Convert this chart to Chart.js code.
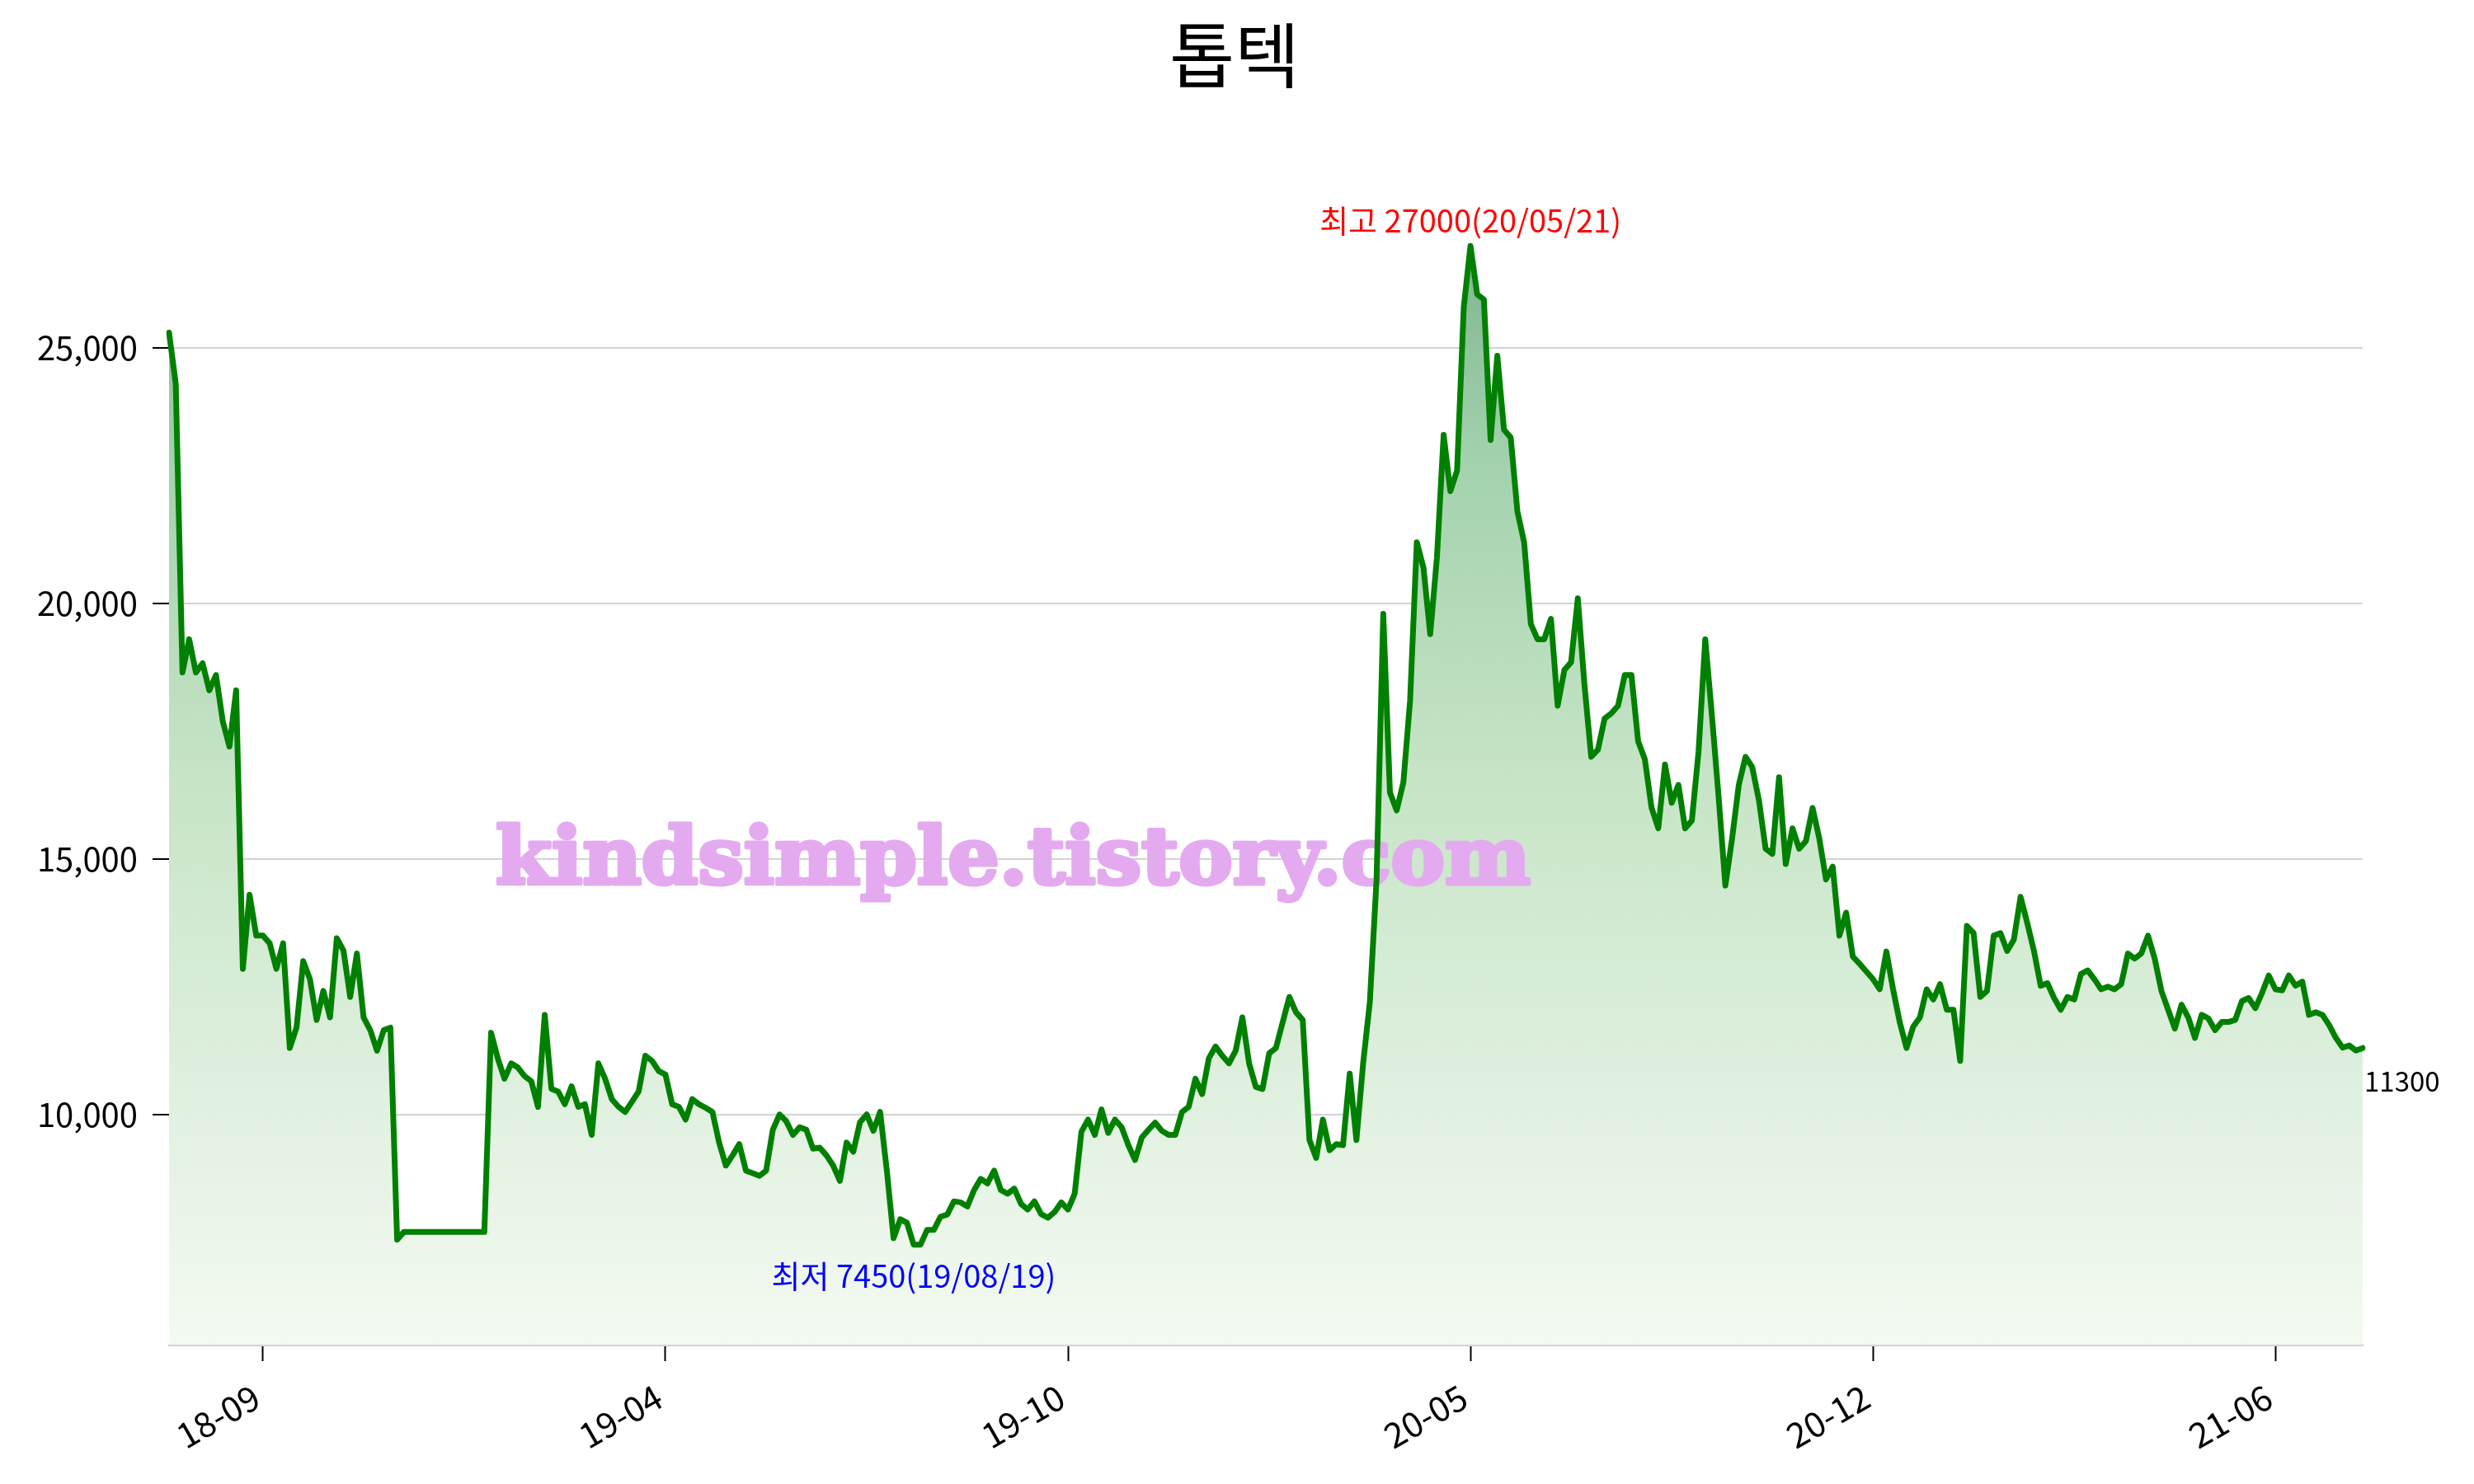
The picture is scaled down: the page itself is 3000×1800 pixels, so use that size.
<!DOCTYPE html>
<html>
<head>
<meta charset="utf-8">
<script src="https://cdn.jsdelivr.net/npm/chart.js@4.4.1/dist/chart.umd.min.js"></script>
<style>
  html, body { margin: 0; padding: 0; background: #fff; }
  #wrap { width: 3000px; height: 1800px; }
</style>
</head>
<body>
<div id="wrap"><canvas id="stockChart"></canvas></div>
<script>
const stockName = "톱텍";
const watermark = "kindsimple.tistory.com";
const tickLabels = ["18-09", "19-04", "19-10", "20-05", "20-12", "21-06"];
const firstTick = 14;   // index of the first labelled day
const tickStep = 60;    // days between labels
const yTicks = [10000, 15000, 20000, 25000];
const highDate = "20/05/21";
const lowDate = "19/08/19";

// daily close
const closes = [
  25300, 24300, 18650, 19300, 18650, 18830, 18300, 18600, 17700, 17200,
  18300, 12850, 14300, 13500, 13500, 13350, 12850, 13350, 11300, 11700,
  13000, 12650, 11850, 12420, 11900, 13450, 13210, 12300, 13150, 11900,
  11650, 11250, 11650, 11700, 7550, 7700, 7700, 7700, 7700, 7700,
  7700, 7700, 7700, 7700, 7700, 7700, 7700, 7700, 11600, 11100,
  10700, 11000, 10920, 10750, 10650, 10150, 11950, 10500, 10450, 10200,
  10550, 10150, 10200, 9600, 11000, 10700, 10300, 10150, 10050, 10250,
  10450, 11150, 11050, 10850, 10780, 10200, 10150, 9900, 10300, 10200,
  10130, 10050, 9450, 9000,
  9200, 9420, 8900, 8850, 8800, 8900,
  9700, 10000, 9870, 9600, 9750, 9700, 9330, 9350, 9200, 9000,
  8700, 9450, 9270, 9850, 10000, 9680, 10050, 8900, 7580, 7950,
  7880, 7450, 7450, 7740, 7740, 8000, 8040, 8300, 8280, 8200,
  8520, 8740, 8650, 8900, 8520, 8450, 8550, 8250, 8140, 8300,
  8050, 7980, 8090, 8280, 8140, 8450, 9660, 9900, 9600, 10100,
  9640, 9900, 9750, 9400, 9110, 9550, 9700, 9840, 9680, 9600,
  9600, 10050, 10150, 10700, 10400, 11100, 11330, 11150, 11000, 11250,
  11900, 11000, 10540, 10500, 11200, 11300, 11800,
  12300, 12000, 11850,
  9500, 9150, 9900, 9300, 9420, 9400, 10800, 9500, 11000, 12200,
  14600, 19800, 16300, 15950, 16500, 18100, 21200, 20700, 19400, 20900,
  23300, 22200, 22600, 25800, 27000, 26050, 25950, 23200, 24850, 23400,
  23250, 21800, 21200, 19600, 19300, 19300, 19700, 18000, 18700, 18850,
  20100, 18400, 17000, 17140, 17750, 17850, 18000, 18600, 18600, 17300,
  16950, 16000, 15600, 16850, 16100, 16450, 15600, 15750, 17100, 19300,
  17800, 16200, 14480, 15400, 16450, 17000, 16800, 16150, 15200, 15100,
  16600, 14900, 15600, 15200, 15350, 16000,
  15400, 14600, 14850, 13500,
  13950, 13090, 12950, 12800, 12650, 12450, 13190, 12450, 11800, 11300,
  11720, 11900, 12450, 12250, 12550, 12050, 12050, 11050, 13690, 13550,
  12300, 12420, 13500, 13550, 13200, 13420, 14260, 13750, 13200, 12520,
  12570, 12280, 12050, 12300, 12250, 12750, 12820, 12650, 12450, 12500,
  12450, 12550, 13150, 13050, 13150, 13500, 13050, 12420, 12050, 11680,
  12150, 11900, 11500, 11950, 11880, 11650, 11810, 11810, 11850, 12220,
  12280, 12080, 12380, 12720, 12450, 12430, 12720, 12520, 12600, 11950,
  12000, 11950, 11750, 11500, 11310, 11350, 11250, 11300
];

const hiVal = Math.max(...closes);
const loVal = Math.min(...closes);
const span = hiVal - loVal;

Chart.defaults.font.family = '"Noto Sans CJK KR", "Noto Sans", sans-serif';
Chart.defaults.color = "#000";

function fillGradient(context) {
  const chart = context.chart;
  const area = chart.chartArea;
  if (!area) return "rgba(0,128,0,0.2)";
  const top = chart.scales.y.getPixelForValue(hiVal);
  const g = chart.ctx.createLinearGradient(0, top, 0, area.bottom);
  g.addColorStop(0, "rgb(126,182,144)");
  g.addColorStop(0.2, "rgb(164,210,174)");
  g.addColorStop(0.5, "rgb(200,229,200)");
  g.addColorStop(1, "rgb(244,250,242)");
  return g;
}

const textPlugin = {
  id: "texts",
  beforeDatasetsDraw(chart) {
    // watermark sits over the fill but under the line
    const { ctx, chartArea } = chart;
    ctx.save();
    ctx.font = "bold 96px 'DejaVu Serif'";
    const w = ctx.measureText(watermark).width;
    ctx.translate(chartArea.left + 396, chartArea.top + 895);
    ctx.scale(1255 / w, 1);
    ctx.fillStyle = "rgb(228,170,240)";
    ctx.strokeStyle = "rgb(228,170,240)";
    ctx.lineWidth = 5;
    ctx.lineJoin = "round";
    ctx.textBaseline = "alphabetic";
    ctx.strokeText(watermark, 0, 0);
    ctx.fillText(watermark, 0, 0);
    ctx.restore();
  },
  afterDatasetsDraw(chart) {
    const { ctx, scales: { x, y } } = chart;
    const hi = closes.indexOf(hiVal);
    const lo = closes.indexOf(loVal);
    const last = closes.length - 1;
    ctx.save();
    ctx.font = "38px 'Noto Sans CJK KR'";
    ctx.textAlign = "center";
    ctx.textBaseline = "alphabetic";
    ctx.fillStyle = "red";
    ctx.fillText("최고 " + hiVal + "(" + highDate + ")", x.getPixelForValue(hi), y.getPixelForValue(hiVal) - 16);
    ctx.fillStyle = "blue";
    ctx.fillText("최저 " + loVal + "(" + lowDate + ")", x.getPixelForValue(lo), y.getPixelForValue(loVal) + 52);
    ctx.font = "33px 'Noto Sans CJK KR'";
    ctx.textAlign = "left";
    ctx.fillStyle = "black";
    ctx.fillText(String(closes[last]), x.getPixelForValue(last) + 2, y.getPixelForValue(closes[last]) + 53);
    ctx.restore();
  },
  afterDraw(chart) {
    // title centred on the whole figure
    const ctx = chart.ctx;
    ctx.save();
    ctx.font = "86px 'Noto Sans CJK KR'";
    ctx.textAlign = "center";
    ctx.textBaseline = "middle";
    ctx.fillStyle = "#000";
    ctx.fillText(stockName, chart.width / 2 - 3, 67);
    ctx.restore();
  }
};

new Chart(document.getElementById("stockChart"), {
  type: "line",
  data: {
    labels: closes.map((_, i) => i),
    datasets: [
      {
        data: closes,
        borderColor: "#008000",
        borderWidth: 7,
        borderJoinStyle: "round",
        borderCapStyle: "round",
        pointRadius: 0,
        tension: 0,
        fill: "start",
        backgroundColor: fillGradient,
      },
    ],
  },
  options: {
    responsive: true,
    maintainAspectRatio: false,
    animation: false,
    layout: { padding: { left: 0, right: 135, top: 177, bottom: 0 } },
    plugins: {
      legend: { display: false },
      tooltip: { enabled: false },
      title: { display: false },
      filler: { drawTime: "beforeDatasetsDraw" },
    },
    scales: {
      x: {
        type: "category",
        afterBuildTicks: (s) => {
          s.ticks = tickLabels.map((_, k) => ({ value: firstTick + k * tickStep }));
        },
        afterFit: (s) => { s.height = 169; },
        grid: { drawOnChartArea: false, tickLength: 20, tickColor: "#000", tickWidth: 2 },
        border: { color: "#d3d3d3", width: 3 },
        ticks: {
          autoSkip: false,
          minRotation: 30,
          maxRotation: 30,
          padding: 18,
          labelOffset: -8,
          font: { size: 42 },
          color: "#000",
          callback: (v) => tickLabels[(v - firstTick) / tickStep],
        },
      },
      y: {
        min: loVal - 0.1 * span,
        max: hiVal + 0.1 * span,
        afterBuildTicks: (s) => { s.ticks = yTicks.map((v) => ({ value: v })); },
        afterFit: (s) => { s.width = 205; },
        grid: { color: "#d3d3d3", lineWidth: 2, tickLength: 20, tickColor: "#000", tickWidth: 2 },
        border: { display: false },
        ticks: {
          padding: 18,
          font: { size: 40 },
          color: "#000",
          callback: (v) => v.toLocaleString("en-US"),
        },
      },
    },
  },
  plugins: [textPlugin],
});
</script>
</body>
</html>
